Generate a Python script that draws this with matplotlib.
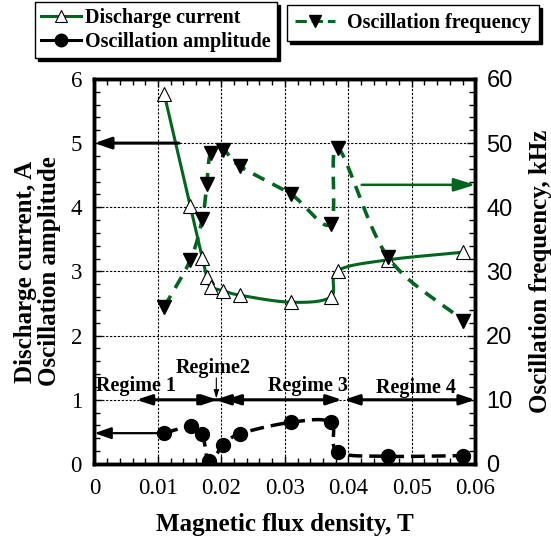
import numpy as np
import matplotlib
matplotlib.use("Agg")
import matplotlib.pyplot as plt
from matplotlib.lines import Line2D
from matplotlib.ticker import MultipleLocator, FuncFormatter

# ---------------- data ----------------
b_field = [0.0110, 0.0151, 0.0170, 0.0177, 0.0183, 0.0203, 0.0229, 0.0310, 0.0372, 0.0383, 0.0462, 0.0581]
discharge_current = [5.76, 4.02, 3.21, 2.91, 2.76, 2.70, 2.63, 2.52, 2.60, 3.01, 3.18, 3.30]
osc_frequency = [24.5, 31.8, 38.2, 43.6, 48.4, 49.0, 46.4, 42.0, 37.4, 49.3, 32.3, 22.3]
b_field_amp = [0.0110, 0.0152, 0.0170, 0.0180, 0.0203, 0.0229, 0.0310, 0.0372, 0.0383, 0.0462, 0.0581]
osc_amplitude = [0.48, 0.59, 0.47, 0.04, 0.29, 0.47, 0.65, 0.65, 0.19, 0.12, 0.13]

regime_names = ["Regime 1", "Regime2", "Regime 3", "Regime 4"]
regime_bounds = [(0.0066, 0.0190), (0.0190, 0.0194), (0.0206, 0.0390), (0.0393, 0.0600)]

GREEN = "#00661f"
SERIF = "Liberation Serif"
SANS = "Liberation Sans"


def smooth(x, y, sx, sy, n=20):
    """Catmull-Rom curve through the points (drawing only)."""
    p = np.column_stack([np.asarray(x) / sx, np.asarray(y) / sy])
    p = np.vstack([p[0] * 2 - p[1], p, p[-1] * 2 - p[-2]])
    out = []
    for i in range(1, len(p) - 2):
        p0, p1, p2, p3 = p[i - 1], p[i], p[i + 1], p[i + 2]
        t = np.linspace(0, 1, n, endpoint=False)[:, None]
        seg = 0.5 * ((2 * p1) + (-p0 + p2) * t + (2 * p0 - 5 * p1 + 4 * p2 - p3) * t ** 2
                     + (-p0 + 3 * p1 - 3 * p2 + p3) * t ** 3)
        out.append(seg)
    out.append(p[-2][None, :])
    out = np.vstack(out)
    return out[:, 0] * sx, out[:, 1] * sy


fig = plt.figure(figsize=(5.51, 5.37), dpi=100)
ax = fig.add_axes([0.1715, 0.136, 0.691, 0.717])
ax2 = ax.twinx()

ax.set_xlim(0, 0.06)
ax.set_ylim(0, 6)
ax2.set_ylim(0, 60)

# grid
for gx in [0.01, 0.02, 0.03, 0.04, 0.05]:
    ax.axvline(gx, color="black", lw=0.8, ls=(0, (2, 1.5)), zorder=0)
for gy in [1, 2, 3, 4, 5]:
    ax.axhline(gy, color="black", lw=0.8, ls=(0, (2, 1.5)), zorder=0)

# discharge current
sx, sy = smooth(b_field, discharge_current, 0.06, 6)
ax.plot(sx, sy, color=GREEN, lw=2.2, zorder=3)
ax.plot(b_field, discharge_current, ls="none", marker="^", ms=10, mfc="white",
        mec="black", mew=0.8, zorder=5)

# oscillation amplitude
sx, sy = smooth(b_field_amp, osc_amplitude, 0.06, 6)
ax.plot(sx, sy, color="black", lw=2.5, ls=(0, (4, 2)), zorder=3)
ax.plot(b_field_amp, osc_amplitude, ls="none", marker="o", ms=10, mfc="black",
        mec="black", zorder=5)

# oscillation frequency (right axis)
sx, sy = smooth(b_field, osc_frequency, 0.06, 60)
ax2.plot(sx, sy, color=GREEN, lw=2.6, ls=(0, (3.5, 2.5)), zorder=3)
ax2.plot(b_field, osc_frequency, ls="none", marker="v", ms=10, mfc="black",
         mec="black", zorder=5)

# pointer arrows
ax.annotate("", xy=(0.0, 5.0), xytext=(0.0133, 5.0),
            arrowprops=dict(arrowstyle="-|>,head_length=1.0,head_width=0.35",
                            color="black", lw=2.2, shrinkA=0, shrinkB=0), zorder=4)
ax.annotate("", xy=(0.0, osc_amplitude[0]), xytext=(b_field_amp[0], osc_amplitude[0]),
            arrowprops=dict(arrowstyle="-|>,head_length=1.0,head_width=0.35",
                            color="black", lw=1.6, shrinkA=0, shrinkB=0), zorder=4)
ax.annotate("", xy=(0.06, 4.35), xytext=(0.0421, 4.35),
            arrowprops=dict(arrowstyle="-|>,head_length=1.3,head_width=0.4",
                            color=GREEN, lw=1.8, shrinkA=0, shrinkB=0), zorder=4)

# regimes
for (x0, x1) in regime_bounds:
    ax.annotate("", xy=(x0, 1.0), xytext=(x1, 1.0),
                arrowprops=dict(arrowstyle="<|-|>,head_length=0.9,head_width=0.3",
                                color="black", lw=2.2, shrinkA=0, shrinkB=0), zorder=4)
RFS = 14.5
ax.text(0.0066, 1.22, regime_names[0], ha="center", va="center", fontsize=RFS,
        fontweight="bold", family=SERIF, zorder=6)
ax.text(0.0187, 1.50, regime_names[1], ha="center", va="center", fontsize=RFS,
        fontweight="bold", family=SERIF, zorder=6)
ax.annotate("", xy=(0.0192, 1.02), xytext=(0.0192, 1.34),
            arrowprops=dict(arrowstyle="-|>,head_length=0.5,head_width=0.15",
                            color="black", lw=0.8, shrinkA=0, shrinkB=0), zorder=4)
ax.text(0.0336, 1.22, regime_names[2], ha="center", va="center", fontsize=RFS,
        fontweight="bold", family=SERIF, zorder=6)
ax.text(0.0507, 1.19, regime_names[3], ha="center", va="center", fontsize=RFS,
        fontweight="bold", family=SERIF, zorder=6)

# ticks
ax.xaxis.set_major_locator(MultipleLocator(0.01))
ax.xaxis.set_minor_locator(MultipleLocator(0.002))
ax.yaxis.set_major_locator(MultipleLocator(1))
ax.yaxis.set_minor_locator(MultipleLocator(0.2))
ax2.yaxis.set_major_locator(MultipleLocator(10))
ax2.yaxis.set_minor_locator(MultipleLocator(2))
ax.xaxis.set_major_formatter(FuncFormatter(lambda v, p: "0" if abs(v) < 1e-9 else f"{v:.2f}"))

ax.tick_params(axis="x", which="both", direction="in", top=True, width=1.0)
ax.tick_params(axis="x", which="major", length=6, labelsize=16.5, pad=10)
ax.tick_params(axis="x", which="minor", length=4)
ax.tick_params(axis="y", which="both", direction="in", right=False, width=1.0)
ax.tick_params(axis="y", which="major", length=6, labelsize=16.5, pad=9)
ax.tick_params(axis="y", which="minor", length=4)
ax2.tick_params(axis="y", which="both", direction="in", width=1.0)
ax2.tick_params(axis="y", which="major", length=6, labelsize=17, pad=8)
ax2.tick_params(axis="y", which="minor", length=4)
for lab in ax.get_xticklabels():
    lab.set_family(SERIF)
for lab in ax.get_yticklabels():
    lab.set_family(SERIF)
for lab in ax2.get_yticklabels():
    lab.set_family(SANS)

for a in (ax, ax2):
    for s in a.spines.values():
        s.set_linewidth(2.5)

LFS = 18
ax.set_xlabel("Magnetic flux density, T", fontsize=LFS, fontweight="bold", family=SERIF, labelpad=10)
ax.set_ylabel("Discharge current, A\nOscillation amplitude", fontsize=LFS, fontweight="bold",
              family=SERIF, labelpad=7, linespacing=1.05)
ax2.set_ylabel("Oscillation frequency, kHz", fontsize=LFS, fontweight="bold", family=SERIF,
               labelpad=12)

# legends
LEGFS = 14.5
h1 = [Line2D([], [], color=GREEN, lw=2.2, marker="^", ms=9, mfc="white", mec="black", mew=0.8),
      Line2D([], [], color="black", lw=2.2, marker="o", ms=9, mfc="black", mec="black")]
leg1 = fig.legend(h1, ["Discharge current", "Oscillation amplitude"], loc="lower left",
                  bbox_to_anchor=(35 / 551, 1 - 58 / 537), borderaxespad=0,
                  prop=dict(family=SERIF, weight="bold", size=LEGFS),
                  frameon=True, fancybox=False, shadow={"color": "black", "alpha": 1.0},
                  edgecolor="black", handlelength=2.0, handletextpad=0.2, borderpad=0.3,
                  labelspacing=0.2, framealpha=1)
leg1.get_frame().set_linewidth(1.0)
h2 = [Line2D([], [], color=GREEN, lw=2.2, ls="--", marker="v", ms=9, mfc="black", mec="black")]
leg2 = fig.legend(h2, ["Oscillation frequency"], loc="upper left",
                  bbox_to_anchor=(287 / 551, 1 - 5 / 537), borderaxespad=0,
                  prop=dict(family=SERIF, weight="bold", size=LEGFS),
                  frameon=True, fancybox=False, shadow={"color": "black", "alpha": 1.0},
                  edgecolor="black", handlelength=2.0, handletextpad=0.6, borderpad=0.4,
                  framealpha=1)
leg2._legend_box.sep = 0
leg2.get_frame().set_linewidth(1.0)

fig.savefig("out.png", dpi=100)
